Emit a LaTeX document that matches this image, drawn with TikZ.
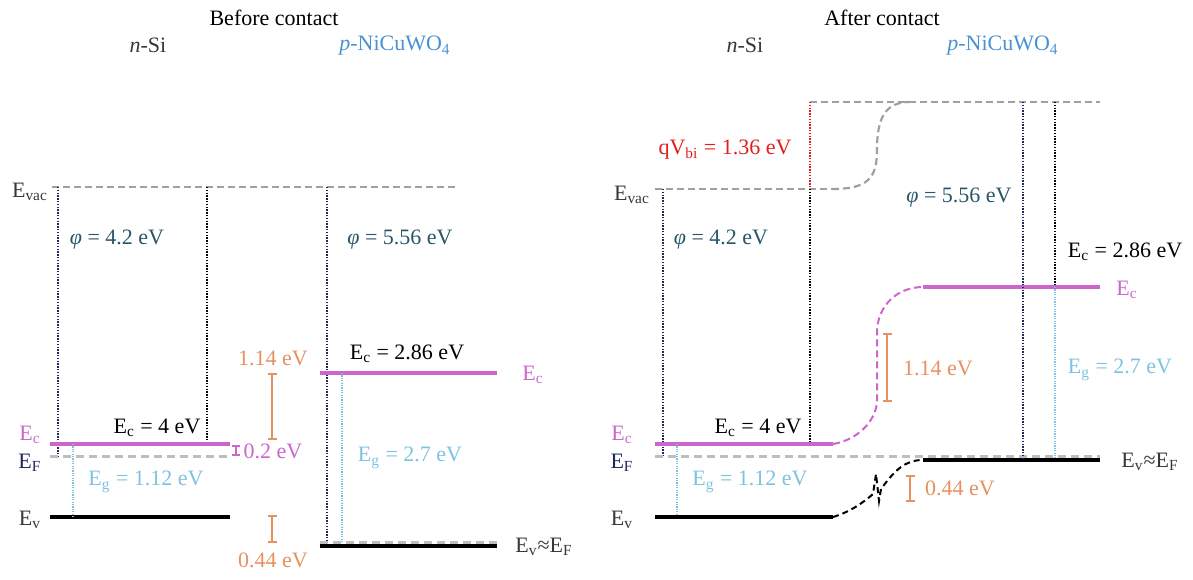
\documentclass[tikz,border=0pt]{standalone}
\usepackage{fontspec}
\setmainfont{Liberation Serif}
\usetikzlibrary{arrows.meta}
\definecolor{mag}{RGB}{204,102,204}
\definecolor{org}{RGB}{230,145,95}
\definecolor{lblue}{RGB}{125,195,225}
\definecolor{navyc}{RGB}{30,40,90}
\definecolor{phicol}{RGB}{40,85,105}
\definecolor{pblue}{RGB}{75,145,210}
\definecolor{gtext}{RGB}{55,55,55}
\definecolor{vred}{RGB}{225,30,30}
\definecolor{fgray}{RGB}{190,190,190}
\definecolor{vgray}{RGB}{160,160,160}
\newcommand{\sbs}[1]{\textsubscript{#1}}
\begin{document}
\begin{tikzpicture}[x=0.5pt,y=-0.5pt,
  every node/.style={font=\fontsize{11}{13}\selectfont, inner sep=0pt},
  lvlc/.style={mag, line width=2pt},
  lvlv/.style={black, line width=2pt},
  fermi/.style={fgray, line width=1.5pt, dash pattern=on 4pt off 2.5pt},
  vac/.style={vgray, line width=1pt, dash pattern=on 3.5pt off 2pt},
  dotnavy/.style={navyc, line width=1.2pt, dash pattern=on 0.7pt off 0.7pt},
  dotblack/.style={black, line width=1.2pt, dash pattern=on 0.7pt off 0.7pt},
  dotblue/.style={lblue, line width=0.9pt, dash pattern=on 0.6pt off 0.6pt},
  dotred/.style={vred, line width=1.2pt, dash pattern=on 0.7pt off 0.7pt},
  gapbar/.style={org, line width=0.9pt, {Bar[width=4.5pt]}-{Bar[width=4.5pt]}},
  magdash/.style={mag, line width=1pt, dash pattern=on 3.5pt off 2pt},
  blkdash/.style={black, line width=1pt, dash pattern=on 3pt off 2pt},
  vacdash/.style={vgray, line width=1.1pt, dash pattern=on 3.5pt off 2pt}
]
\useasboundingbox (0,0) rectangle (1193,579);

% ---------------- titles ----------------
\node (tB) at (274,18) {Before contact};
\node[gtext] (nL) at (148,45) {\textit{n}-Si};
\node[pblue] (pL) at (395,46) {\textit{p}-NiCuWO\sbs{4}};
\node (tA) at (882,18) {After contact};
\node[gtext] (nR) at (745,45) {\textit{n}-Si};
\node[pblue] (pR) at (1003,46) {\textit{p}-NiCuWO\sbs{4}};

% ================= BEFORE CONTACT =================
\coordinate (Lvac0) at (52,187);  \coordinate (Lvac1) at (455,187);
\coordinate (LnavyT) at (58,187); \coordinate (LnavyB) at (58,456);
\coordinate (LblkT) at (207,187); \coordinate (LblkB) at (207,444);
\coordinate (LEc0) at (50,444);   \coordinate (LEc1) at (230,444);
\coordinate (LEF0) at (50,456);   \coordinate (LEF1) at (230,456);
\coordinate (LEv0) at (50,517);   \coordinate (LEv1) at (230,517);
\coordinate (LbluT) at (73,444);  \coordinate (LbluB) at (73,517);
\coordinate (PnavyT) at (327,187); \coordinate (PnavyB) at (327,545);
\coordinate (PEc0) at (320,373);  \coordinate (PEc1) at (497,373);
\coordinate (PbluT) at (342,373); \coordinate (PbluB) at (342,543);
\coordinate (PEF0) at (320,542);  \coordinate (PEF1) at (497,542);
\coordinate (PEv0) at (320,546);  \coordinate (PEv1) at (497,546);
\coordinate (bar1T) at (272,373); \coordinate (bar1B) at (272,440);
\coordinate (bar2T) at (272,515); \coordinate (bar2B) at (272,543);
\coordinate (barmT) at (236,445); \coordinate (barmB) at (236,456);

\draw[vac] (Lvac0) -- (Lvac1);
\draw[dotnavy] (LnavyT) -- (LnavyB);
\draw[dotblack] (LblkT) -- (LblkB);
\draw[fermi] (LEF0) -- (LEF1);
\draw[lvlc] (LEc0) -- (LEc1);
\draw[lvlv] (LEv0) -- (LEv1);
\draw[dotblue] (LbluT) -- (LbluB);
\draw[dotnavy] (PnavyT) -- (PnavyB);
\draw[lvlc] (PEc0) -- (PEc1);
\draw[dotblue] (PbluT) -- (PbluB);
\draw[lvlv] (PEv0) -- (PEv1);
\draw[fermi] (PEF0) -- (PEF1);
\draw[gapbar] (bar1T) -- (bar1B);
\draw[gapbar] (bar2T) -- (bar2B);
\draw[mag, line width=0.9pt, {Bar[width=4pt]}-{Bar[width=4pt]}] (barmT) -- (barmB);

% labels
\node[gtext] (LEvacL) at (30,192) {E\sbs{vac}};
\node[phicol] (LphiN) at (117,240) {\textit{φ} = 4.2 eV};
\node (LEcT) at (157,428) {E\sbs{c} = 4 eV};
\node[mag] (LEcL) at (30,435) {E\sbs{c}};
\node[navyc] (LEFL) at (30,463) {E\sbs{F}};
\node[gtext] (LEvL) at (30,520) {E\sbs{v}};
\node[lblue] (LEgT) at (146,482) {E\sbs{g} = 1.12 eV};
\node[org] (L114) at (273,358) {1.14 eV};
\node[mag] (L02) at (273,451) {0.2 eV};
\node[org] (L044) at (273,560) {0.44 eV};
\node (PEcT) at (407,354) {E\sbs{c} = 2.86 eV};
\node[mag] (PEcL) at (533,375) {E\sbs{c}};
\node[lblue] (PEgT) at (410,458) {E\sbs{g} = 2.7 eV};
\node[phicol] (PphiN) at (400,240) {\textit{φ} = 5.56 eV};
\node[gtext] (PEvL) at (544,547) {E\sbs{v}≈E\sbs{F}};

% ================= AFTER CONTACT =================
\coordinate (Rvac0) at (655,189); \coordinate (Rvac1) at (832,189);
\coordinate (RvacT0) at (810,102); \coordinate (RvacT1) at (1100,102);
\coordinate (RvacC) at (910,102);
\coordinate (RredT) at (810,102); \coordinate (RredB) at (810,189);
\coordinate (RblkT) at (810,189); \coordinate (RblkB) at (810,444);
\coordinate (RnavyT) at (663,189); \coordinate (RnavyB) at (663,456);
\coordinate (REc0) at (655,444);  \coordinate (REc1) at (833,444);
\coordinate (REF0) at (655,456);  \coordinate (REF1) at (1100,456);
\coordinate (RbluT) at (677,444); \coordinate (RbluB) at (677,517);
\coordinate (REv0) at (655,517);  \coordinate (REv1) at (833,517);
\coordinate (QEc0) at (923,287);  \coordinate (QEc1) at (1100,287);
\coordinate (QEv0) at (923,460);  \coordinate (QEv1) at (1100,460);
\coordinate (QnavyT) at (1023,102); \coordinate (QnavyB) at (1023,458);
\coordinate (QblkT) at (1055,102); \coordinate (QblkB) at (1055,287);
\coordinate (QbluT) at (1055,287); \coordinate (QbluB) at (1055,458);
\coordinate (bar3T) at (887,333); \coordinate (bar3B) at (887,402);
\coordinate (bar4T) at (910,475); \coordinate (bar4B) at (910,502);

\draw[vac] (RvacT0) -- (RvacT1);
\draw[vac] (Rvac0) -- (Rvac1);
\draw[vacdash] (Rvac1) .. controls (868,189) and (877,178) .. (877,150)
   .. controls (877,118) and (885,102) .. (RvacC);
\draw[dotred] (RredT) -- (RredB);
\draw[dotblack] (RblkT) -- (RblkB);
\draw[dotnavy] (RnavyT) -- (RnavyB);
\draw[fermi] (REF0) -- (REF1);
\draw[lvlc] (REc0) -- (REc1);
\draw[dotblue] (RbluT) -- (RbluB);
\draw[lvlv] (REv0) -- (REv1);
\draw[magdash] (REc1) .. controls (858,440) and (877,420) .. (877,400)
   -- (877,333) .. controls (877,305) and (898,287) .. (QEc0);
\draw[lvlc] (QEc0) -- (QEc1);
\draw[blkdash] (REv1) .. controls (850,512) and (864,502) .. (873,494)
   -- (876,474) -- (879,501) -- (881,489)
   .. controls (895,470) and (905,460) .. (QEv0);
\draw[lvlv] (QEv0) -- (QEv1);
\draw[dotnavy] (QnavyT) -- (QnavyB);
\draw[dotblack] (QblkT) -- (QblkB);
\draw[dotblue] (QbluT) -- (QbluB);
\draw[gapbar] (bar3T) -- (bar3B);
\draw[gapbar] (bar4T) -- (bar4B);

\node[vred] (RqV) at (725,150) {qV\sbs{bi} = 1.36 eV};
\node[gtext] (REvacL) at (632,195) {E\sbs{vac}};
\node[phicol] (RphiN) at (721,240) {\textit{φ} = 4.2 eV};
\node[phicol] (QphiN) at (959,198) {\textit{φ} = 5.56 eV};
\node (QEcT) at (1125,252) {E\sbs{c} = 2.86 eV};
\node[mag] (QEcL) at (1127,290) {E\sbs{c}};
\node[org] (R114) at (938,368) {1.14 eV};
\node[lblue] (QEgT) at (1120,370) {E\sbs{g} = 2.7 eV};
\node (REcT) at (758,428) {E\sbs{c} = 4 eV};
\node[mag] (REcL) at (622,435) {E\sbs{c}};
\node[navyc] (REFL) at (622,463) {E\sbs{F}};
\node[gtext] (REvL) at (622,520) {E\sbs{v}};
\node[lblue] (REgT) at (750,482) {E\sbs{g} = 1.12 eV};
\node[org] (R044) at (960,488) {0.44 eV};
\node[gtext] (QEvL) at (1150,462) {E\sbs{v}≈E\sbs{F}};
\end{tikzpicture}
\end{document}
